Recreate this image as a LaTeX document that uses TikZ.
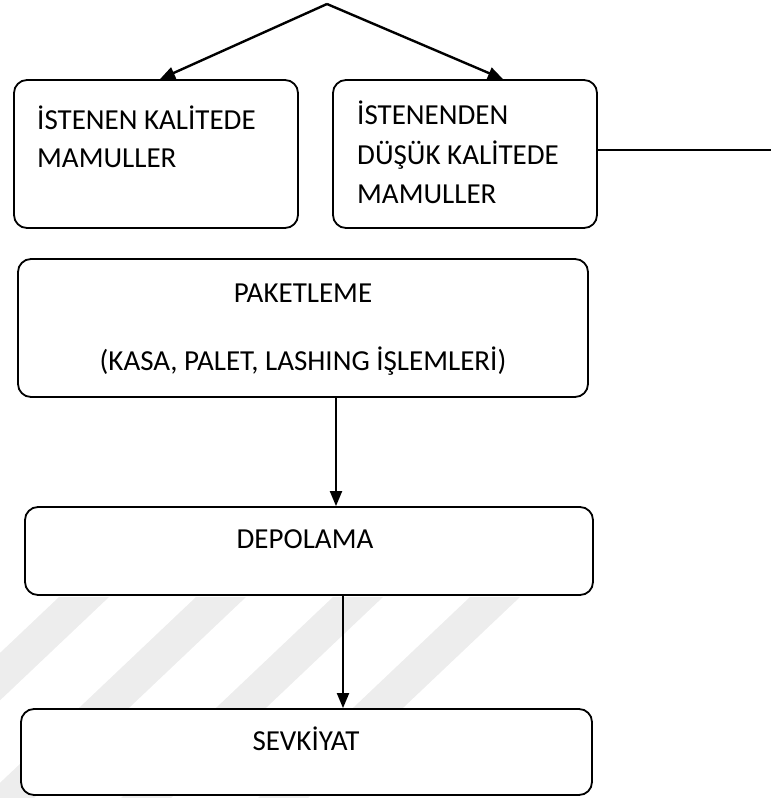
\documentclass[tikz,border=0pt]{standalone}
\usepackage{fontspec}
\setmainfont{Carlito}
\usetikzlibrary{arrows.meta}

\tikzset{
  stage/.style={draw, line width=1.8pt, rounded corners=13pt, fill=white,
    inner sep=0pt},
  label/.style={inner sep=0pt, font=\fontsize{29}{35}\selectfont},
  flow/.style={line width=2pt, -{Triangle[length=15pt,width=12pt]}},
  branch/.style={line width=2.4pt, -{Triangle[length=15pt,width=12pt]}},
  plain/.style={line width=1.4pt},
  stripe/.style={fill=black!7, draw=none}
}

\begin{document}
\begin{tikzpicture}[x=1pt, y=-1pt]
\useasboundingbox (0,0) rectangle (771,798);

% faint diagonal bands in the lower part of the page
\begin{scope}
  \clip (0,596) rectangle (771,798);
  \foreach \r in {520,383,246,109,-28}{
    \fill[stripe] (\r-50,597) -- (\r,597) -- (\r-212,798) -- (\r-262,798) -- cycle;
  }
\end{scope}

% stage boxes
\node[stage, minimum width=284pt, minimum height=148pt] (good) at (156,154) {};
\node[stage, minimum width=264pt, minimum height=148pt] (low)  at (465,154) {};
\node[stage, minimum width=570pt, minimum height=138pt] (pack) at (303,328) {};
\node[stage, minimum width=568pt, minimum height=88pt]  (store) at (309,551) {};
\node[stage, minimum width=571pt, minimum height=86pt]  (ship) at (306.5,752) {};

% box texts
\node[label, anchor=base west] (good1) at (37,129) {İSTENEN KALİTEDE};
\node[label, anchor=base west] (good2) at (37,167) {MAMULLER};
\node[label, anchor=base west] (low1) at (357,124) {İSTENENDEN};
\node[label, anchor=base west] (low2) at (357,164) {DÜŞÜK KALİTEDE};
\node[label, anchor=base west] (low3) at (357,203) {MAMULLER};
\node[label, anchor=base] (pack1) at (303,302) {PAKETLEME};
\node[label, anchor=base] (pack2) at (303,370) {(KASA, PALET, LASHING İŞLEMLERİ)};
\node[label, anchor=base] (store1) at (305,548) {DEPOLAMA};
\node[label, anchor=base] (ship1) at (306,750) {SEVKİYAT};

% connectors
\coordinate (top) at (327,4);
\coordinate (rightend) at (771,150);
\draw[branch] (top) -- ([xshift=4pt]good.north);
\draw[branch] (top) -- ([xshift=38pt]low.north);
\draw[plain] ([yshift=4pt]low.east) -- (rightend);
\draw[flow] ([xshift=33pt]pack.south) -- ([xshift=33pt]pack.south |- store.north);
\draw[flow] ([xshift=34pt]store.south) -- ([xshift=34pt]store.south |- ship.north);
\end{tikzpicture}
\end{document}
